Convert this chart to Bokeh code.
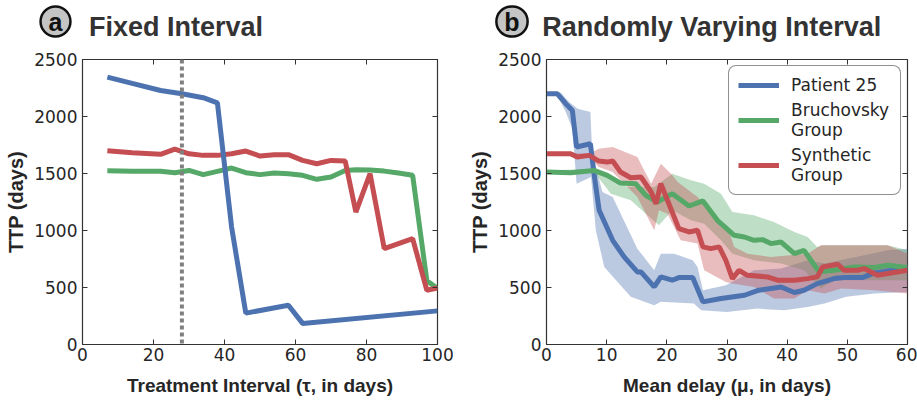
from bokeh.plotting import figure
from bokeh.layouts import row, column
from bokeh.models import (Span, Label, Legend, LegendItem, LinearAxis, FixedTicker,
                          CustomJSTickFormatter, Range1d)
from bokeh.embed import file_html
from bokeh.resources import INLINE

# ---------------- data: panel a (fixed interval) ----------------
fixed_patient_x = [7, 14, 22, 28, 34, 38, 42, 46, 58, 62, 100]
fixed_patient_y = [2345, 2290, 2228, 2200, 2165, 2120, 1030, 275, 345, 185, 295]

fixed_bruch_x = [7, 14, 22, 26, 30, 34, 38, 42, 46, 50, 54, 58, 62, 66, 70, 74, 77, 81, 85, 89, 93, 97, 100]
fixed_bruch_y = [1525, 1519, 1519, 1507, 1527, 1490, 1519, 1548, 1507, 1490, 1504, 1498, 1484, 1449,
                 1469, 1527, 1533, 1530, 1521, 1504, 1484, 560, 491]

fixed_synth_x = [7, 14, 22, 26, 30, 34, 38, 42, 46, 50, 54, 58, 62, 66, 70, 74, 77, 81, 85, 93, 97, 100]
fixed_synth_y = [1700, 1682, 1668, 1714, 1673, 1659, 1659, 1673, 1697, 1653, 1665, 1665, 1615, 1586,
                 1615, 1609, 1162, 1498, 841, 929, 476, 496]

chosen_interval = 28

# ---------------- data: panel b (randomly varying interval) ----------------
rand_patient_x = [0, 1.8, 3.2, 4.3, 5, 7.3, 7.9, 8.75, 11, 12.9, 15.1, 15.7, 17.9, 19, 20.9, 22, 24.3,
                  26, 29, 32.9, 35.3, 39, 41.2, 42.8, 45, 47.8, 49.5, 52.5, 54.5, 60]
rand_patient_y = [2199, 2199, 2112, 2053, 1732, 1761, 1498, 1177, 914, 768, 637, 637, 505, 593, 564, 587,
                  587, 374, 403, 432, 476, 505, 456, 476, 534, 578, 587, 587, 628, 672]
rand_patient_hi_x = [0, 2.4, 3.8, 5.2, 7.3, 7.6, 9.3, 11, 15.1, 17.9, 19, 21.2, 24.3, 25.1, 26, 29.8,
                     34.5, 39, 43.4, 46.2, 56.7, 60]
rand_patient_hi_y = [2208, 2208, 2126, 2068, 2039, 1673, 1338, 1294, 841, 651, 797, 797, 739, 680, 476,
                     520, 651, 666, 739, 710, 826, 841]
rand_patient_lo_x = [0, 1.8, 3.2, 4.3, 5, 7.4, 8.2, 9.6, 14, 17.9, 19, 24.5, 25.7, 30, 35, 39.5, 43.4,
                     46.2, 49.8, 54.5, 60]
rand_patient_lo_y = [2199, 2185, 2039, 1893, 1411, 1469, 1002, 680, 418, 345, 374, 359, 301, 286, 315,
                     301, 330, 359, 418, 447, 461]

rand_bruch_x = [0, 4, 7.9, 10.1, 12.3, 14.8, 16.5, 18.4, 20.9, 23.7, 26, 28.4, 31.2, 32.9, 34.5, 35.9,
                37.3, 39, 41.2, 42.8, 45.3, 47.8, 51.1, 54.5, 56.7, 60]
rand_bruch_y = [1513, 1507, 1527, 1484, 1416, 1411, 1308, 1250, 1323, 1215, 1259, 1089, 958, 943, 914,
                920, 885, 899, 797, 826, 637, 651, 680, 675, 695, 675]
rand_bruch_hi_x = [0, 7.9, 10.1, 13.4, 15.4, 17.9, 20.9, 24, 26.2, 29, 30.9, 34.5, 37.8, 41.2, 43.4, 45,
                   45.9, 56.7, 60]
rand_bruch_hi_y = [1527, 1542, 1498, 1381, 1381, 1381, 1498, 1440, 1411, 1323, 1162, 1133, 1075, 987,
                   943, 855, 870, 870, 826]
rand_bruch_lo_x = [0, 7.9, 10.7, 14, 16.5, 18.7, 20.9, 24, 26.2, 29, 30.9, 34.5, 39, 42.8, 45.6, 47.8,
                   51.1, 60]
rand_bruch_lo_y = [1498, 1513, 1323, 1265, 1148, 1046, 1177, 1089, 1060, 914, 797, 739, 710, 651, 491,
                   564, 564, 564]

rand_synth_x = [0, 4, 5.1, 7.1, 8.7, 10.1, 11, 12.3, 14, 15.7, 17.4, 18.2, 19, 20.1, 22, 23.7, 25.1, 26,
                27.3, 28.7, 29.8, 30.9, 32, 33.4, 36.7, 38.4, 41.2, 43.4, 45, 45.9, 48.4, 49.5, 51.7,
                52.8, 55, 60]
rand_synth_y = [1673, 1673, 1644, 1659, 1609, 1600, 1609, 1513, 1463, 1469, 1338, 1235, 1411, 1265,
                1016, 987, 1002, 856, 841, 856, 739, 578, 651, 607, 593, 564, 564, 578, 593, 680, 704,
                651, 651, 666, 607, 651]
rand_synth_hi_x = [0, 7.1, 8.7, 11, 15.1, 17.4, 19, 20.7, 21.8, 25.1, 26.8, 28.7, 30.1, 31.2, 33.4,
                   37.3, 43.4, 45.6, 47.2, 56.7, 60]
rand_synth_hi_y = [1688, 1673, 1717, 1732, 1644, 1411, 1586, 1498, 1425, 1294, 1192, 1089, 1031, 856,
                   797, 768, 797, 870, 870, 870, 797]
rand_synth_lo_x = [0, 7.1, 8.7, 11, 15.1, 17.9, 18.7, 20.1, 22.3, 25.1, 26.2, 29.8, 30.9, 34.5, 37.8,
                   41.2, 43.4, 46.2, 49, 54.5, 60]
rand_synth_lo_y = [1659, 1644, 1556, 1513, 1294, 1002, 1177, 1148, 914, 885, 651, 549, 534, 505, 403,
                   403, 476, 447, 491, 476, 447]

series_labels = ["Patient 25", "Bruchovsky\nGroup", "Synthetic\nGroup"]
panel_letters = ["a", "b"]
panel_titles = ["Fixed Interval", "Randomly Varying Interval"]
y_ticks = [0, 500, 1000, 1500, 2000, 2500]
x_ticks_a = [0, 20, 40, 60, 80, 100]
x_ticks_b = [0, 10, 20, 30, 40, 50, 60]

BLUE, GREEN, RED = "#4C72B0", "#55A868", "#C44E52"
INK = "#262626"
HEAD_H = 49
MAIN_H = 354
W_A, W_B = 466, 451


def style(p, xticks, yticks, xlabel):
    p.xgrid.visible = False
    p.ygrid.visible = False
    p.outline_line_color = "#333333"
    p.outline_line_width = 1.2
    p.background_fill_color = "white"
    p.border_fill_color = "white"
    for ax in p.xaxis + p.yaxis:
        ax.axis_line_color = "#333333"
        ax.major_tick_line_color = "#333333"
        ax.major_tick_in = 5
        ax.major_tick_out = 0
        ax.minor_tick_line_color = None
        ax.major_label_text_font = "DejaVu Sans"
        ax.major_label_text_font_size = "17px"
        ax.major_label_text_color = INK
        ax.axis_label_text_font = "Liberation Sans"
        ax.axis_label_text_font_style = "bold"
        ax.axis_label_text_color = INK
    p.xaxis.ticker = FixedTicker(ticks=xticks)
    p.yaxis.ticker = FixedTicker(ticks=yticks)
    p.xaxis.axis_label = xlabel
    p.yaxis.axis_label = "TTP (days)"
    p.xaxis.axis_label_text_font_size = "19px"
    p.yaxis.axis_label_text_font_size = "20px"
    p.xaxis.major_label_standoff = 3
    p.xaxis.axis_label_standoff = 11
    p.yaxis.major_label_standoff = 5
    p.yaxis.axis_label_standoff = 4
    # mirrored inward ticks on top and right, no labels
    for ticks, place in ((xticks, "above"), (yticks, "right")):
        ax = LinearAxis(ticker=FixedTicker(ticks=ticks),
                        formatter=CustomJSTickFormatter(code="return ''"),
                        major_tick_in=5, major_tick_out=0, minor_tick_line_color=None,
                        axis_line_color=None, major_tick_line_color="#333333",
                        major_label_text_font_size="0px", major_label_standoff=0)
        p.add_layout(ax, place)


def header(width, letter, title, cx, tx):
    h = figure(width=width, height=HEAD_H, x_range=Range1d(0, 1), y_range=Range1d(0, 1),
               output_backend="svg", toolbar_location=None, x_axis_location=None,
               y_axis_location=None, min_border=0, outline_line_color=None)
    h.xgrid.visible = False
    h.ygrid.visible = False
    h.border_fill_color = "white"
    kw = dict(x=cx, y=HEAD_H - 21, x_units="screen", y_units="screen", text=letter,
              text_font="Liberation Sans", text_font_style="bold", text_font_size="25px",
              text_color="#111111", text_align="center", text_baseline="middle",
              background_fill_color="#c4c4c4", border_line_color="#111111",
              border_line_width=2.5)
    props = Label.properties()
    if "padding" in props:
        kw["padding"] = (8, 1)
    if "border_radius" in props:
        kw["border_radius"] = 15
    h.add_layout(Label(**kw))
    h.add_layout(Label(x=tx, y=HEAD_H - 26.7, x_units="screen", y_units="screen", text=title,
                       text_font="Liberation Sans", text_font_style="bold", text_font_size="27px",
                       text_color="#333333", text_baseline="alphabetic"))
    return h


# ---------------- panel a ----------------
pa = figure(width=W_A, height=MAIN_H, x_range=Range1d(0, 100),
            y_range=Range1d(0, 2500), output_backend="svg", toolbar_location=None,
            min_border_left=82, min_border_right=29, min_border_top=10, min_border_bottom=59)
style(pa, x_ticks_a, y_ticks, "Treatment Interval (\u03c4, in days)")
pa.line(fixed_bruch_x, fixed_bruch_y, line_color=GREEN, line_width=5)
pa.line(fixed_synth_x, fixed_synth_y, line_color=RED, line_width=5)
pa.line(fixed_patient_x, fixed_patient_y, line_color=BLUE, line_width=5)
pa.add_layout(Span(location=chosen_interval, dimension="height", line_color="#808080",
                   line_width=4, line_dash="4 3"))

# ---------------- panel b ----------------
pb = figure(width=W_B, height=MAIN_H, x_range=Range1d(0, 60),
            y_range=Range1d(0, 2500), output_backend="svg", toolbar_location=None,
            min_border_left=80, min_border_right=10, min_border_top=10, min_border_bottom=59)
style(pb, x_ticks_b, y_ticks, "Mean delay (\u03bc, in days)")

bands = [(rand_patient_hi_x, rand_patient_hi_y, rand_patient_lo_x, rand_patient_lo_y, BLUE),
         (rand_bruch_hi_x, rand_bruch_hi_y, rand_bruch_lo_x, rand_bruch_lo_y, GREEN),
         (rand_synth_hi_x, rand_synth_hi_y, rand_synth_lo_x, rand_synth_lo_y, RED)]
for hx, hy, lx, ly, c in bands:
    pb.patch(hx + lx[::-1], hy + ly[::-1], fill_color=c, fill_alpha=0.38, line_color=None)

r1 = pb.line(rand_patient_x, rand_patient_y, line_color=BLUE, line_width=5)
r2 = pb.line(rand_bruch_x, rand_bruch_y, line_color=GREEN, line_width=5)
r3 = pb.line(rand_synth_x, rand_synth_y, line_color=RED, line_width=5)

legend = Legend(items=[LegendItem(label=series_labels[0], renderers=[r1]),
                       LegendItem(label=series_labels[1], renderers=[r2]),
                       LegendItem(label=series_labels[2], renderers=[r3])],
                location="top_right", margin=6, padding=9, spacing=5,
                glyph_width=41, glyph_height=18, label_standoff=12, label_width=100,
                label_text_font="DejaVu Sans", label_text_font_size="17px",
                label_text_color=INK, label_text_line_height=1.08,
                border_line_color="#222222", border_line_width=1,
                background_fill_color="white", background_fill_alpha=1)
if "border_radius" in Legend.properties():
    legend.border_radius = 8
pb.add_layout(legend)

ha = header(W_A, panel_letters[0], panel_titles[0], 55, 88.5)
hb = header(W_B, panel_letters[1], panel_titles[1], 45.5, 75.7)

layout = column(row(ha, hb), row(pa, pb))
open("out.html", "w").write(file_html(layout, INLINE))
